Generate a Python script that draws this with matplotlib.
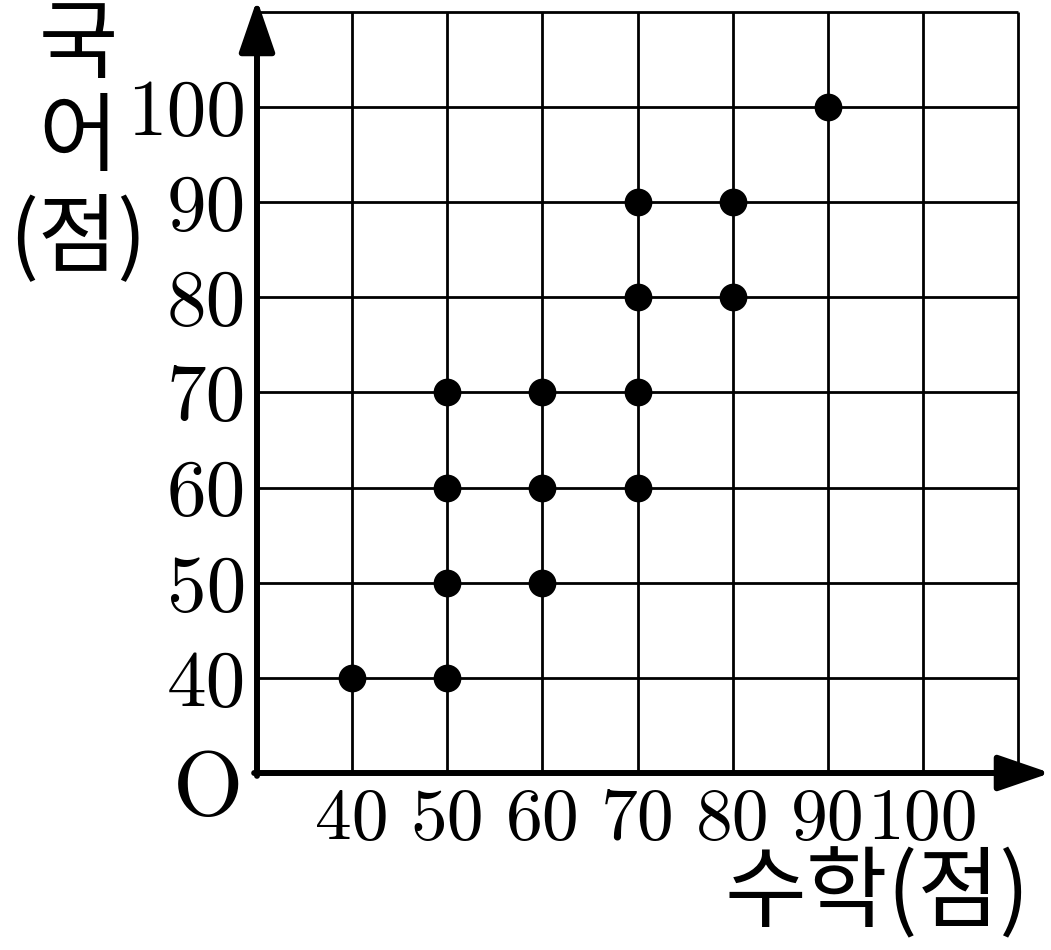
import matplotlib
matplotlib.use('Agg')
import matplotlib.pyplot as plt

# scores: 수학 (x), 국어 (y)
math_scores = [40, 50, 50, 50, 50, 60, 60, 60, 70, 70, 70, 70, 80, 80, 90]
korean_scores = [40, 40, 50, 60, 70, 50, 60, 70, 60, 70, 80, 90, 80, 90, 100]
tick_values = [40, 50, 60, 70, 80, 90, 100]
tick_labels = ['40', '50', '60', '70', '80', '90', '100']
grid_values = [40, 50, 60, 70, 80, 90, 100, 110]

W, H = 1051, 950
fig = plt.figure(figsize=(W / 100, H / 100), dpi=100)
fig.patch.set_facecolor('white')

# axes box: origin at pixel (257, 773), grid 110 at (1018, 12)
ax = fig.add_axes([257 / W, (H - 773) / H, 761 / W, 761 / H])
ax.set_xlim(30, 110)
ax.set_ylim(30, 110)
for s in ax.spines.values():
    s.set_visible(False)
ax.set_facecolor('none')

# grid
for g in grid_values:
    ax.plot([g, g], [30, 110], color='black', lw=2.0, zorder=1, clip_on=False,
            solid_capstyle='butt')
    ax.plot([30, 110], [g, g], color='black', lw=2.0, zorder=1, clip_on=False,
            solid_capstyle='butt')

# axes with arrows
arrow_style = '-|>,head_length=1.6,head_width=0.55'
ax.annotate('', xy=(113.4, 30), xytext=(29.7, 30),
            arrowprops=dict(arrowstyle=arrow_style, lw=4.3, color='black',
                            shrinkA=0, shrinkB=0, mutation_scale=20),
            annotation_clip=False, zorder=3)
ax.annotate('', xy=(30, 111.3), xytext=(30, 29.7),
            arrowprops=dict(arrowstyle=arrow_style, lw=4.3, color='black',
                            shrinkA=0, shrinkB=0, mutation_scale=20),
            annotation_clip=False, zorder=3)

# points
ax.scatter(math_scores, korean_scores, s=400, color='black', zorder=4,
           clip_on=False, linewidths=0)

# ticks
ax.set_xticks(tick_values)
ax.set_xticklabels(tick_labels, fontfamily='cmr10', fontsize=53)
ax.set_yticks(tick_values)
ax.set_yticklabels(tick_labels, fontfamily='cmr10', fontsize=57)
ax.tick_params(axis='both', length=0)
ax.tick_params(axis='x', pad=11)
ax.tick_params(axis='y', pad=8)

# origin label
ax.text(24.9, 28.0, 'O', fontfamily='cmr10', fontsize=65, ha='center', va='center')

# axis titles
kfont = ['Noto Sans CJK KR', 'DejaVu Sans']
fig.text(78 / W, 1 - 47 / H, '국', family=kfont, fontsize=62, ha='center', va='center')
fig.text(78 / W, 1 - 140 / H, '어', family=kfont, fontsize=62, ha='center', va='center')
fig.text(78 / W, 1 - 240 / H, '(점)', family=kfont, fontsize=62, ha='center', va='center')
fig.text(877 / W, 1 - 895 / H, '수학(점)', family=kfont, fontsize=64, ha='center', va='center')

fig.savefig('out.png', dpi=100, facecolor='white')
